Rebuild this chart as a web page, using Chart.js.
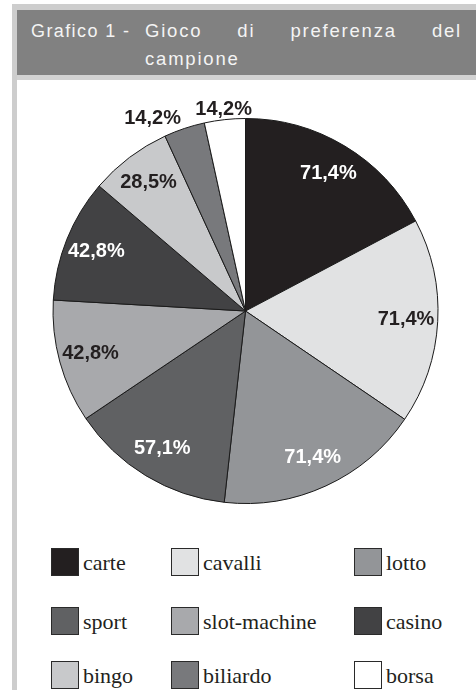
<!DOCTYPE html>
<html lang="it">
<head>
<meta charset="utf-8">
<title>Grafico 1 - Gioco di preferenza del campione</title>
<script src="https://cdn.jsdelivr.net/npm/chart.js"></script>
<style>
  html, body { margin: 0; padding: 0; background: #fff; }
  body { width: 476px; height: 699px; position: relative; overflow: hidden; }
  .frame-top { position: absolute; left: 12px; top: 4px; width: 464px; height: 6px; background: #cdcdcd; }
  .frame-left { position: absolute; left: 12px; top: 4px; width: 5px; height: 686px; background: #cdcdcd; }
  .header { position: absolute; left: 17px; top: 10px; width: 459px; height: 65px; background: #818181; }
  .header-band { position: absolute; left: 17px; top: 75px; width: 459px; height: 5px; background: #d2d2d2; }
  .title { position: absolute; color: #f4f4f4; font-family: "Liberation Sans", Arial, sans-serif; font-size: 18.5px; line-height: 28px; white-space: nowrap; }
  #num { left: 31px; top: 17px; letter-spacing: 1.4px; font-size: 18px; }
  #line1 { left: 145px; top: 17px; width: 317px; display: flex; justify-content: space-between; letter-spacing: 1.8px; }
  #line2 { left: 145px; top: 45px; letter-spacing: 1.8px; }
  #pie { position: absolute; left: 0; top: 80px; }
  .legend-item { position: absolute; height: 28px; display: flex; align-items: center; }
  .legend-item .box { width: 26px; height: 26px; border: 1px solid #2a2a2a; }
  .legend-item .txt { margin-left: 4px; font-family: "Liberation Serif", "Times New Roman", serif; font-size: 22px; color: #231f20; line-height: 28px; position: relative; top: 1px; }
</style>
</head>
<body>
<div class="frame-top"></div>
<div class="frame-left"></div>
<div class="header"></div>
<div class="header-band"></div>
<div class="title" id="num">Grafico 1 -</div>
<div class="title" id="line1"><span>Gioco</span><span>di</span><span>preferenza</span><span>del</span></div>
<div class="title" id="line2">campione</div>

<canvas id="pie" width="476" height="462"></canvas>
<div id="legend"></div>

<script>
// giochi indicati dal campione (% di risposte)
var giochi = ['carte', 'cavalli', 'lotto', 'sport', 'slot-machine', 'casino', 'bingo', 'biliardo', 'borsa'];
var percentuali = [71.4, 71.4, 71.4, 57.1, 42.8, 42.8, 28.5, 14.2, 14.2];

var colori = ['#231f20', '#e1e2e3', '#939598', '#606163', '#a8a9ac', '#424244', '#c8c9cb', '#78797c', '#ffffff'];
var coloriTesto = ['#ffffff', '#231f20', '#ffffff', '#ffffff', '#231f20', '#ffffff', '#231f20', '#231f20', '#231f20'];

// posizioni della legenda (3 colonne x 3 righe)
var legendaX = [51, 171, 354];
var legendaY = [548, 607, 661];

function formatta(v) {
    return v.toFixed(1).replace('.', ',') + '%';
}

//etichette percentuali: dentro gli spicchi grandi, fuori da quelli piccoli
var etichette = {
    id: 'etichette',
    afterDatasetsDraw: function (chart) {
        var ctx = chart.ctx;
        var meta = chart.getDatasetMeta(0);
        ctx.save();
        ctx.font = 'bold 20px "Liberation Sans", Arial, sans-serif';
        ctx.textBaseline = 'middle';
        meta.data.forEach(function (arc, i) {
            var p = arc.getProps(['x', 'y', 'startAngle', 'endAngle', 'outerRadius'], true);
            var mid = (p.startAngle + p.endAngle) / 2;
            var fuori = (p.endAngle - p.startAngle) < 0.3;
            var r = fuori ? p.outerRadius * 1.055 : p.outerRadius * 0.835;
            var x = p.x + Math.cos(mid) * r;
            var y = p.y + Math.sin(mid) * r;
            ctx.textAlign = 'center';
            if (fuori && Math.cos(mid) * r < -40) {
                ctx.textAlign = 'right';
            }
            ctx.fillStyle = fuori ? '#231f20' : coloriTesto[i];
            ctx.fillText(formatta(percentuali[i]), x, y);
        });
        ctx.restore();
    }
};

var ctx = document.getElementById('pie').getContext('2d');
var chart = new Chart(ctx, {
    type: 'pie',
    data: {
        labels: giochi,
        datasets: [{
            data: percentuali,
            backgroundColor: colori,
            borderColor: '#1a1a1a',
            borderWidth: 1,
            hoverOffset: 0,
            offset: 0,
            radius: 192.5
        }]
    },
    options: {
        responsive: false,
        animation: false,
        layout: { padding: { left: 15, right: 0, top: 0, bottom: 0 } },
        plugins: {
            legend: { display: false },
            tooltip: { enabled: false }
        }
    },
    plugins: [etichette]
});

// legenda html costruita dai dati del grafico
var legenda = document.getElementById('legend');
chart.data.labels.forEach(function (nome, i) {
    var item = document.createElement('div');
    item.className = 'legend-item';
    item.style.left = legendaX[i % 3] + 'px';
    item.style.top = legendaY[Math.floor(i / 3)] + 'px';
    item.innerHTML = '<div class="box" style="background:' + chart.data.datasets[0].backgroundColor[i] + '"></div><span class="txt">' + nome + '</span>';
    legenda.appendChild(item);
});
</script>
</body>
</html>
